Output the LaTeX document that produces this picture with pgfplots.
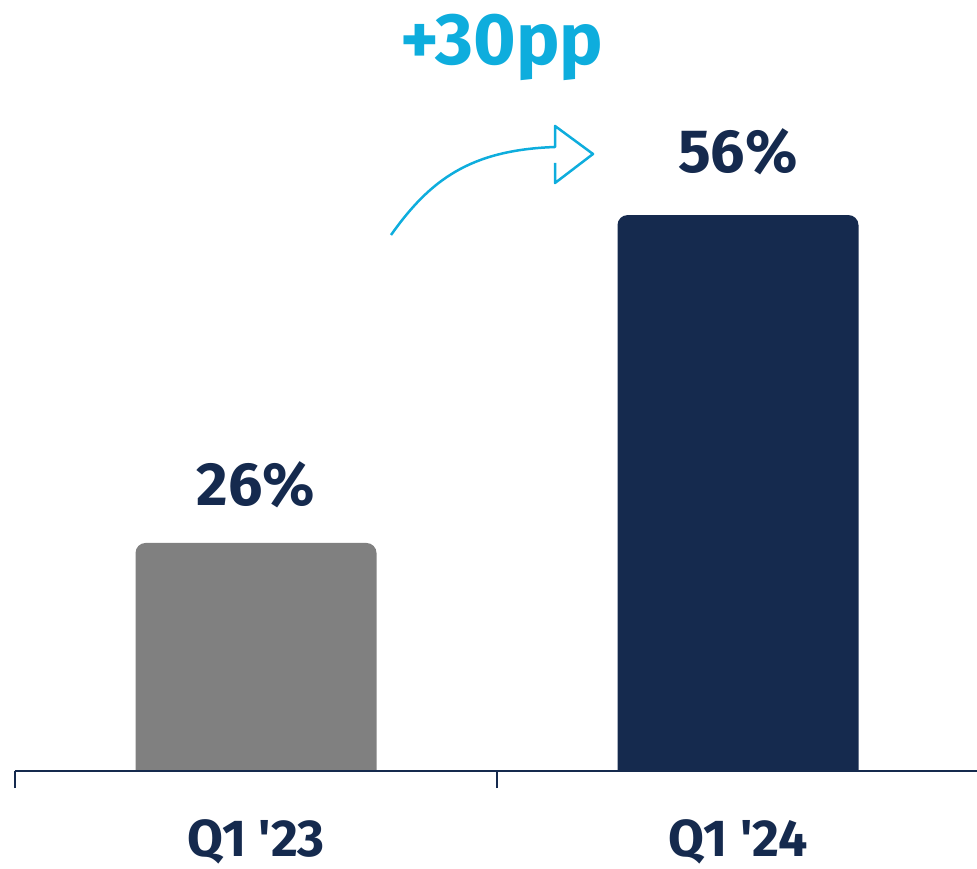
\documentclass[border=0pt]{standalone}
\usepackage{pgfplots}
\pgfplotsset{compat=1.18}
\usepackage{fontspec}
\setmainfont{Fira Sans}
\definecolor{navy}{RGB}{21,42,78}
\definecolor{bargray}{RGB}{128,128,128}
\definecolor{cyanc}{RGB}{14,173,221}
\begin{document}
\begin{tikzpicture}
\path[use as bounding box] (0,0) rectangle (488.5pt,434pt);
\begin{axis}[
  at={(7.5pt,39.55pt)}, anchor=south west,
  scale only axis, width=482pt, height=394.45pt,
  xmin=-0.5, xmax=1.5, ymin=3.5, ymax=75.68,
  axis x line*=bottom, hide y axis,
  axis x line shift=-8.95pt,
  axis line style={navy, line width=1pt},
  axis on top,
  xtick={0,1}, xticklabels={Q1 \textquotesingle23, Q1 \textquotesingle24},
  major tick length=0pt,
  minor xtick={-0.5,0.5,1.5}, minor tick length=8.5pt, tick align=outside,
  minor tick style={navy, line width=1pt},
  xticklabel style={font=\fontsize{26}{26}\selectfont\bfseries, text=navy, anchor=base, yshift=-42.5pt},
  ybar, bar width=0.5, bar shift=0pt,
  clip mode=individual,
]
\addplot[fill=bargray, draw=none, rounded corners=5pt] coordinates {(0,26)};
\addplot[fill=navy, draw=none, rounded corners=5pt] coordinates {(1,56)};
\fill[white] (axis cs:-0.5,3.5) rectangle (axis cs:1.5,5.14);
\node[anchor=base, text=navy, font=\fontsize{30.5}{30.5}\selectfont\bfseries, yshift=18.5pt] at (axis cs:0,26) {26\%};
\node[anchor=base, text=navy, font=\fontsize{30.5}{30.5}\selectfont\bfseries, yshift=21.5pt] at (axis cs:1,56) {56\%};
\end{axis}
\node[anchor=base, text=cyanc, font=\fontsize{36.5}{36.5}\selectfont\bfseries] at (251pt,401.5pt) {+30pp};
\begin{scope}[x=0.5pt,y=-0.5pt,yshift=434pt]
\draw[cyanc, line width=1.25pt, line join=round] (391,235) .. controls (430,180) and (470,150) .. (555,147) -- (555,126) -- (593,154) -- (555,183) -- (555,163);
\end{scope}
\end{tikzpicture}
\end{document}
